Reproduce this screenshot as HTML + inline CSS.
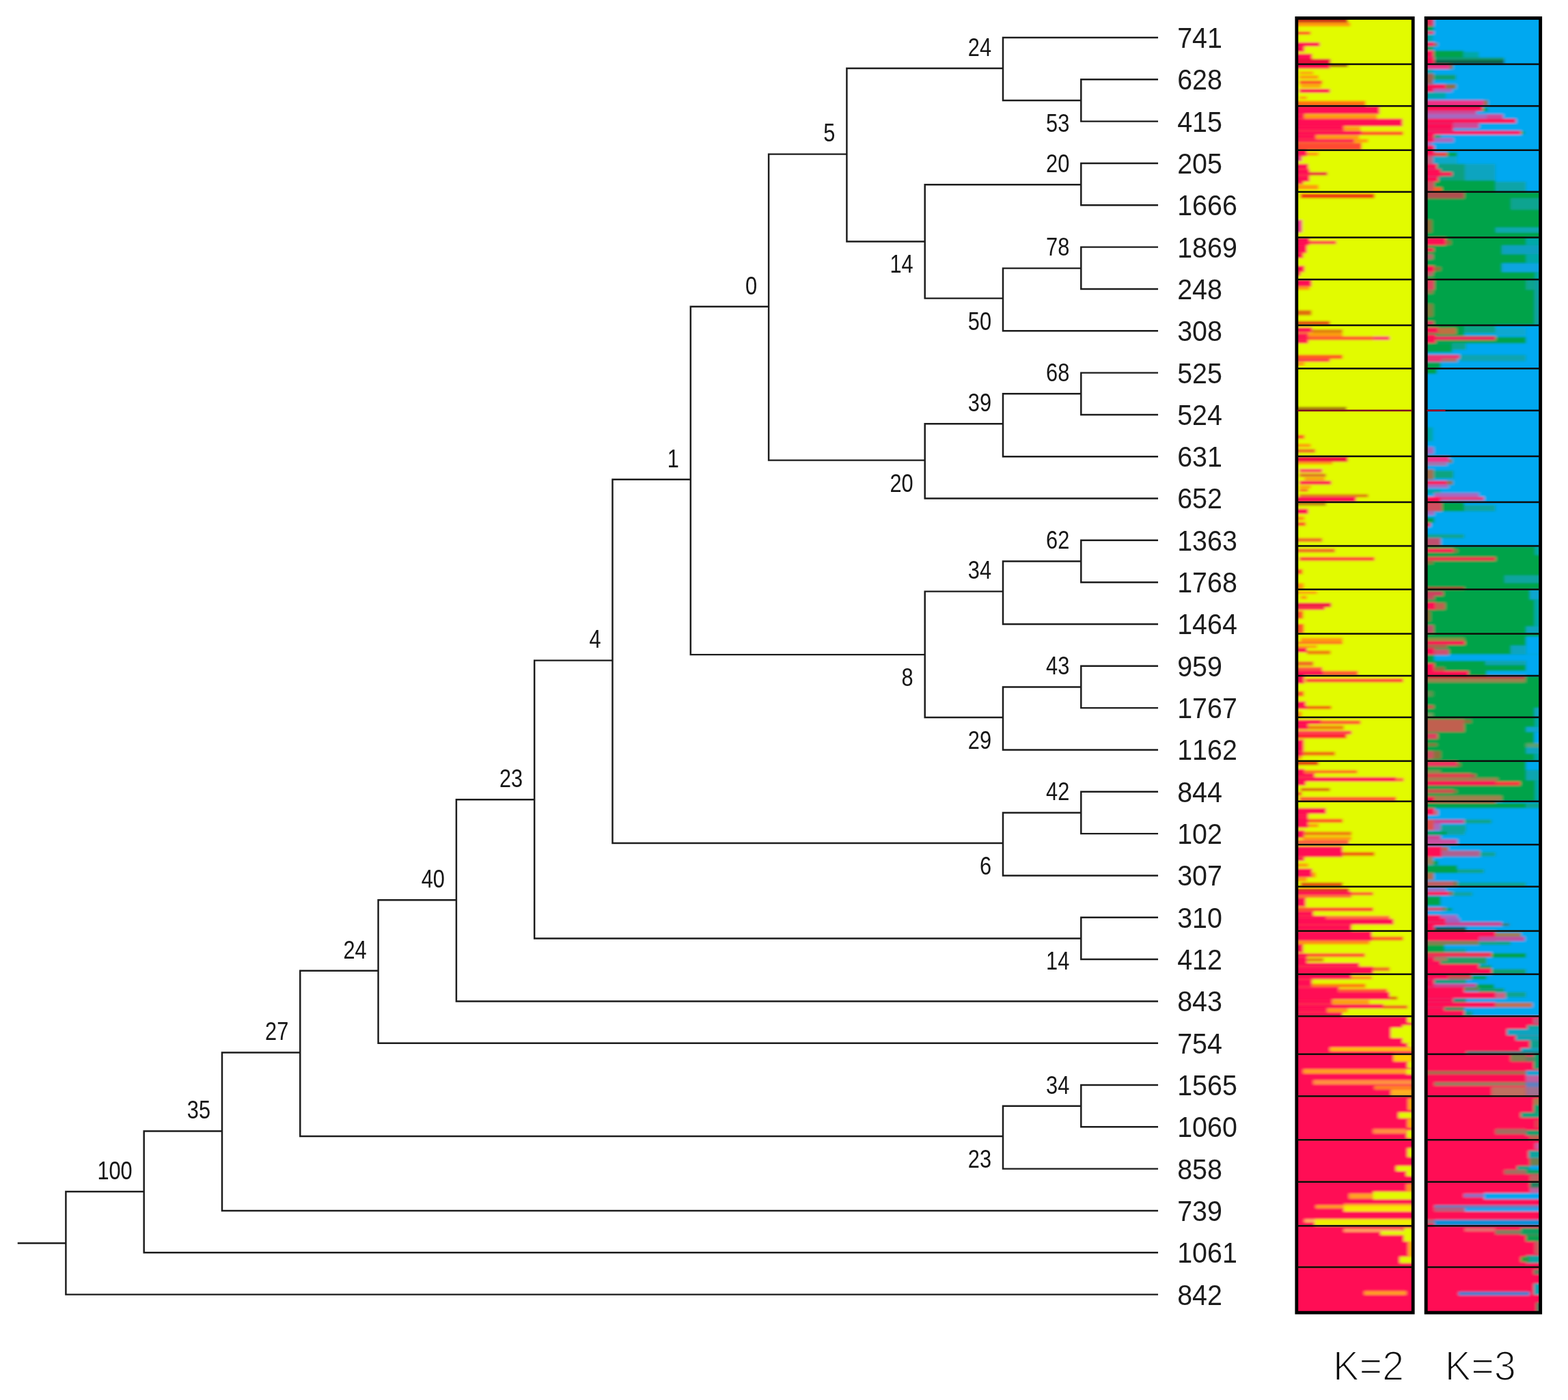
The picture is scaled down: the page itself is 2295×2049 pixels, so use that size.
<!DOCTYPE html>
<html lang="en">
<head>
<meta charset="utf-8">
<title>Phylogenetic tree with STRUCTURE bar plots</title>
<style>
html,body{margin:0;padding:0;background:#fff;}
body{width:2295px;height:2049px;overflow:hidden;}
svg{display:block;}
</style>
</head>
<body>
<svg width="2295" height="2049" viewBox="0 0 2295 2049">
<rect width="2295" height="2049" fill="#fff"/>
<defs><filter id="soft" x="0" y="0" width="100%" height="100%" filterUnits="userSpaceOnUse"><feGaussianBlur stdDeviation="0.55"/></filter></defs>
<g filter="url(#soft)">
<g stroke="#1a1a1a" stroke-width="2.45" stroke-linecap="square" fill="none">
<path d="M1582.3 116.3L1582.3 177.6M1582.3 116.3L1693.8 116.3M1582.3 177.6L1693.8 177.6M1468.0 55.0L1468.0 147.0M1468.0 55.0L1693.8 55.0M1468.0 147.0L1582.3 147.0M1582.3 239.0L1582.3 300.3M1582.3 239.0L1693.8 239.0M1582.3 300.3L1693.8 300.3M1582.3 361.6L1582.3 422.9M1582.3 361.6L1693.8 361.6M1582.3 422.9L1693.8 422.9M1468.0 392.6L1468.0 484.2M1468.0 392.6L1582.3 392.6M1468.0 484.2L1693.8 484.2M1353.7 270.2L1353.7 436.6M1353.7 270.2L1582.3 270.2M1353.7 436.6L1468.0 436.6M1239.4 100.0L1239.4 353.4M1239.4 100.0L1468.0 100.0M1239.4 353.4L1353.7 353.4M1582.3 545.6L1582.3 606.9M1582.3 545.6L1693.8 545.6M1582.3 606.9L1693.8 606.9M1468.0 576.2L1468.0 668.2M1468.0 576.2L1582.3 576.2M1468.0 668.2L1693.8 668.2M1353.7 620.3L1353.7 729.5M1353.7 620.3L1468.0 620.3M1353.7 729.5L1693.8 729.5M1125.1 225.6L1125.1 673.6M1125.1 225.6L1239.4 225.6M1125.1 673.6L1353.7 673.6M1582.3 790.8L1582.3 852.2M1582.3 790.8L1693.8 790.8M1582.3 852.2L1693.8 852.2M1468.0 821.5L1468.0 913.5M1468.0 821.5L1582.3 821.5M1468.0 913.5L1693.8 913.5M1582.3 974.8L1582.3 1036.1M1582.3 974.8L1693.8 974.8M1582.3 1036.1L1693.8 1036.1M1468.0 1005.5L1468.0 1097.4M1468.0 1005.5L1582.3 1005.5M1468.0 1097.4L1693.8 1097.4M1353.7 865.6L1353.7 1050.0M1353.7 865.6L1468.0 865.6M1353.7 1050.0L1468.0 1050.0M1010.8 448.8L1010.8 958.1M1010.8 448.8L1125.1 448.8M1010.8 958.1L1353.7 958.1M1582.3 1158.8L1582.3 1220.1M1582.3 1158.8L1693.8 1158.8M1582.3 1220.1L1693.8 1220.1M1468.0 1189.4L1468.0 1281.4M1468.0 1189.4L1582.3 1189.4M1468.0 1281.4L1693.8 1281.4M896.5 701.7L896.5 1233.9M896.5 701.7L1010.8 701.7M896.5 1233.9L1468.0 1233.9M1582.3 1342.7L1582.3 1404.0M1582.3 1342.7L1693.8 1342.7M1582.3 1404.0L1693.8 1404.0M782.2 966.6L782.2 1373.4M782.2 966.6L896.5 966.6M782.2 1373.4L1582.3 1373.4M667.9 1170.2L667.9 1465.4M667.9 1170.2L782.2 1170.2M667.9 1465.4L1693.8 1465.4M553.6 1317.2L553.6 1526.7M553.6 1317.2L667.9 1317.2M553.6 1526.7L1693.8 1526.7M1582.3 1588.0L1582.3 1649.3M1582.3 1588.0L1693.8 1588.0M1582.3 1649.3L1693.8 1649.3M1468.0 1618.7L1468.0 1710.6M1468.0 1618.7L1582.3 1618.7M1468.0 1710.6L1693.8 1710.6M439.3 1420.7L439.3 1663.0M439.3 1420.7L553.6 1420.7M439.3 1663.0L1468.0 1663.0M325.0 1540.5L325.0 1772.0M325.0 1540.5L439.3 1540.5M325.0 1772.0L1693.8 1772.0M210.7 1655.4L210.7 1833.3M210.7 1655.4L325.0 1655.4M210.7 1833.3L1693.8 1833.3M96.4 1744.0L96.4 1894.6M96.4 1744.0L210.7 1744.0M96.4 1894.6L1693.8 1894.6M27.0 1819.4L96.4 1819.4"/>
</g>
<g font-family="'Liberation Sans', sans-serif" font-size="36.2" fill="#151515" text-anchor="end" style="font-kerning:none">
<text transform="translate(1565.3 193.0) scale(0.85 1)">53</text>
<text transform="translate(1565.3 374.4) scale(0.85 1)">78</text>
<text transform="translate(1565.3 252.0) scale(0.85 1)">20</text>
<text transform="translate(1451.0 482.6) scale(0.85 1)">50</text>
<text transform="translate(1451.0 81.8) scale(0.85 1)">24</text>
<text transform="translate(1336.7 399.4) scale(0.85 1)">14</text>
<text transform="translate(1565.3 558.0) scale(0.85 1)">68</text>
<text transform="translate(1451.0 602.1) scale(0.85 1)">39</text>
<text transform="translate(1222.4 207.4) scale(0.85 1)">5</text>
<text transform="translate(1336.7 719.6) scale(0.85 1)">20</text>
<text transform="translate(1565.3 803.3) scale(0.85 1)">62</text>
<text transform="translate(1565.3 987.3) scale(0.85 1)">43</text>
<text transform="translate(1451.0 847.4) scale(0.85 1)">34</text>
<text transform="translate(1451.0 1096.0) scale(0.85 1)">29</text>
<text transform="translate(1108.1 430.6) scale(0.85 1)">0</text>
<text transform="translate(1336.7 1004.1) scale(0.85 1)">8</text>
<text transform="translate(1565.3 1171.2) scale(0.85 1)">42</text>
<text transform="translate(993.8 683.5) scale(0.85 1)">1</text>
<text transform="translate(1451.0 1279.9) scale(0.85 1)">6</text>
<text transform="translate(879.5 948.4) scale(0.85 1)">4</text>
<text transform="translate(1565.3 1419.4) scale(0.85 1)">14</text>
<text transform="translate(765.2 1152.0) scale(0.85 1)">23</text>
<text transform="translate(650.9 1299.0) scale(0.85 1)">40</text>
<text transform="translate(1565.3 1600.5) scale(0.85 1)">34</text>
<text transform="translate(536.6 1402.5) scale(0.85 1)">24</text>
<text transform="translate(1451.0 1709.0) scale(0.85 1)">23</text>
<text transform="translate(422.3 1522.3) scale(0.85 1)">27</text>
<text transform="translate(308.0 1637.2) scale(0.85 1)">35</text>
<text transform="translate(193.7 1725.8) scale(0.85 1)">100</text>
</g>
<g font-family="'Liberation Sans', sans-serif" font-size="43" fill="#1c1c1c" style="font-kerning:none">
<text transform="translate(1723.2 69.9) scale(0.916 1)">741</text>
<text transform="translate(1723.2 131.2) scale(0.916 1)">628</text>
<text transform="translate(1723.2 192.5) scale(0.916 1)">415</text>
<text transform="translate(1723.2 253.9) scale(0.916 1)">205</text>
<text transform="translate(1723.2 315.2) scale(0.916 1)">1666</text>
<text transform="translate(1723.2 376.5) scale(0.916 1)">1869</text>
<text transform="translate(1723.2 437.8) scale(0.916 1)">248</text>
<text transform="translate(1723.2 499.1) scale(0.916 1)">308</text>
<text transform="translate(1723.2 560.5) scale(0.916 1)">525</text>
<text transform="translate(1723.2 621.8) scale(0.916 1)">524</text>
<text transform="translate(1723.2 683.1) scale(0.916 1)">631</text>
<text transform="translate(1723.2 744.4) scale(0.916 1)">652</text>
<text transform="translate(1723.2 805.7) scale(0.916 1)">1363</text>
<text transform="translate(1723.2 867.1) scale(0.916 1)">1768</text>
<text transform="translate(1723.2 928.4) scale(0.916 1)">1464</text>
<text transform="translate(1723.2 989.7) scale(0.916 1)">959</text>
<text transform="translate(1723.2 1051.0) scale(0.916 1)">1767</text>
<text transform="translate(1723.2 1112.3) scale(0.916 1)">1162</text>
<text transform="translate(1723.2 1173.7) scale(0.916 1)">844</text>
<text transform="translate(1723.2 1235.0) scale(0.916 1)">102</text>
<text transform="translate(1723.2 1296.3) scale(0.916 1)">307</text>
<text transform="translate(1723.2 1357.6) scale(0.916 1)">310</text>
<text transform="translate(1723.2 1418.9) scale(0.916 1)">412</text>
<text transform="translate(1723.2 1480.3) scale(0.916 1)">843</text>
<text transform="translate(1723.2 1541.6) scale(0.916 1)">754</text>
<text transform="translate(1723.2 1602.9) scale(0.916 1)">1565</text>
<text transform="translate(1723.2 1664.2) scale(0.916 1)">1060</text>
<text transform="translate(1723.2 1725.5) scale(0.916 1)">858</text>
<text transform="translate(1723.2 1786.9) scale(0.916 1)">739</text>
<text transform="translate(1723.2 1848.2) scale(0.916 1)">1061</text>
<text transform="translate(1723.2 1909.5) scale(0.916 1)">842</text>
</g>
</g>
<defs><filter id="bl" x="-5%" y="-1%" width="110%" height="102%"><feGaussianBlur stdDeviation="2 1.6"/></filter><filter id="bl3" x="-5%" y="-1%" width="110%" height="102%"><feGaussianBlur stdDeviation="2.3 1.7"/></filter><filter id="bl2" x="-5%" y="-1%" width="110%" height="102%"><feGaussianBlur stdDeviation="0.7"/></filter><clipPath id="c2"><rect x="1899.2" y="27.7" width="167.6" height="1892.1"/></clipPath><clipPath id="c3"><rect x="2088.6" y="27.7" width="164.6" height="1892.1"/></clipPath></defs>
<g clip-path="url(#c2)"><g filter="url(#bl)">
<rect x="1889.4" y="18.3" width="187.2" height="1911.2" fill="#e2fb00"/>
<rect x="1891.2" y="18.7" width="81.4" height="14.7" fill="#c83818"/>
<rect x="1891.2" y="33.0" width="85.1" height="5.6" fill="#ff9a08"/>
<rect x="1891.2" y="46.1" width="27.0" height="4.7" fill="#ff5a28"/>
<rect x="1891.2" y="61.9" width="40.4" height="6.1" fill="#ff0a55"/>
<rect x="1891.2" y="68.1" width="18.0" height="7.8" fill="#ff0a55"/>
<rect x="1891.2" y="78.7" width="29.2" height="8.4" fill="#ff0a55"/>
<rect x="1891.2" y="86.2" width="56.2" height="7.8" fill="#e8103c"/>
<rect x="1891.2" y="94.0" width="55.3" height="6.5" fill="#ff0a55"/>
<rect x="1946.5" y="94.0" width="26.1" height="3.9" fill="#a03010"/>
<rect x="1901.8" y="104.8" width="20.5" height="3.7" fill="#ff9a08"/>
<rect x="1901.8" y="110.4" width="28.0" height="5.0" fill="#ff9a08"/>
<rect x="1901.8" y="117.8" width="33.5" height="5.6" fill="#ff5a28"/>
<rect x="1903.6" y="124.4" width="29.8" height="3.7" fill="#ff9a08"/>
<rect x="1901.8" y="130.0" width="44.7" height="6.0" fill="#ff0a55"/>
<rect x="1901.8" y="141.1" width="11.2" height="3.7" fill="#ff9a08"/>
<rect x="1891.2" y="147.7" width="107.5" height="7.5" fill="#ff7410"/>
<rect x="1891.2" y="155.1" width="128.0" height="12.1" fill="#ff0a55"/>
<rect x="1891.2" y="167.2" width="18.0" height="6.5" fill="#ff0a55"/>
<rect x="1909.2" y="168.2" width="106.2" height="5.6" fill="#ff9a08"/>
<rect x="1891.2" y="173.7" width="161.5" height="11.2" fill="#ff0a55"/>
<rect x="1891.2" y="184.9" width="75.8" height="6.5" fill="#ff0a55"/>
<rect x="1967.0" y="185.9" width="24.2" height="4.7" fill="#ff9a08"/>
<rect x="1891.2" y="191.4" width="101.9" height="6.5" fill="#ff0a55"/>
<rect x="1993.1" y="192.4" width="60.6" height="5.6" fill="#ff5a28"/>
<rect x="1891.2" y="198.0" width="34.8" height="5.6" fill="#ff0a55"/>
<rect x="1926.0" y="198.5" width="63.4" height="5.0" fill="#ff9a08"/>
<rect x="1891.2" y="203.6" width="90.7" height="5.0" fill="#ff0a55"/>
<rect x="1981.9" y="203.6" width="20.5" height="5.0" fill="#ff9a08"/>
<rect x="1891.2" y="209.2" width="101.9" height="10.6" fill="#ff4a30"/>
<rect x="1891.2" y="219.8" width="21.8" height="8.9" fill="#ff0a55"/>
<rect x="1913.0" y="223.0" width="16.8" height="4.7" fill="#ff9a08"/>
<rect x="1891.2" y="228.6" width="14.3" height="7.5" fill="#f03088"/>
<rect x="1891.2" y="239.8" width="23.6" height="7.5" fill="#ff0a55"/>
<rect x="1891.2" y="247.3" width="25.5" height="9.3" fill="#ff0a55"/>
<rect x="1916.7" y="251.9" width="26.1" height="4.7" fill="#e8103c"/>
<rect x="1891.2" y="256.6" width="25.5" height="9.3" fill="#ff0a55"/>
<rect x="1891.2" y="265.9" width="16.2" height="3.7" fill="#ff0a55"/>
<rect x="1891.2" y="270.6" width="38.5" height="6.5" fill="#ff9a08"/>
<rect x="1903.6" y="283.6" width="108.1" height="6.5" fill="#f03010"/>
<rect x="1891.2" y="321.8" width="14.7" height="18.6" fill="#f03088"/>
<rect x="1891.2" y="347.5" width="25.5" height="11.6" fill="#ff0a55"/>
<rect x="1916.7" y="352.6" width="39.1" height="4.7" fill="#ff3050"/>
<rect x="1891.2" y="359.1" width="21.8" height="11.2" fill="#ff0a55"/>
<rect x="1891.2" y="370.3" width="16.2" height="7.5" fill="#ff0a55"/>
<rect x="1891.2" y="388.9" width="18.0" height="9.3" fill="#ff0a55"/>
<rect x="1891.2" y="398.2" width="12.4" height="5.6" fill="#ff0a55"/>
<rect x="1891.2" y="409.0" width="28.3" height="10.5" fill="#ff0a55"/>
<rect x="1891.2" y="419.6" width="25.5" height="4.7" fill="#ff9a08"/>
<rect x="1891.2" y="454.0" width="28.3" height="7.5" fill="#e07010"/>
<rect x="1891.2" y="469.9" width="55.3" height="6.1" fill="#e05010"/>
<rect x="1891.2" y="479.2" width="29.2" height="7.5" fill="#ff0a55"/>
<rect x="1920.4" y="482.0" width="44.7" height="5.6" fill="#e08010"/>
<rect x="1891.2" y="487.6" width="23.6" height="4.7" fill="#ff0a55"/>
<rect x="1914.8" y="487.6" width="50.3" height="4.7" fill="#ff9a08"/>
<rect x="1891.2" y="492.2" width="23.6" height="5.6" fill="#ff0a55"/>
<rect x="1914.8" y="492.2" width="95.0" height="5.6" fill="#ff5a30"/>
<rect x="2009.9" y="492.2" width="24.2" height="5.6" fill="#ff4070"/>
<rect x="1891.2" y="497.8" width="23.6" height="4.7" fill="#ff0a55"/>
<rect x="1891.2" y="519.3" width="73.9" height="6.0" fill="#ff5a20"/>
<rect x="1891.2" y="525.2" width="55.3" height="4.3" fill="#ff3050"/>
<rect x="1891.2" y="530.5" width="18.0" height="4.7" fill="#ff9a08"/>
<rect x="1891.2" y="595.7" width="79.5" height="5.2" fill="#a07010"/>
<rect x="1891.2" y="600.9" width="183.6" height="0.0" fill="#c80030"/>
<rect x="1891.2" y="636.6" width="18.0" height="5.6" fill="#ff5a28"/>
<rect x="1891.2" y="649.6" width="27.3" height="4.7" fill="#ff9a08"/>
<rect x="1891.2" y="657.1" width="33.9" height="5.6" fill="#f07020"/>
<rect x="1891.2" y="667.9" width="81.4" height="8.2" fill="#f01040"/>
<rect x="1891.2" y="676.1" width="59.0" height="3.7" fill="#ff9a08"/>
<rect x="1901.8" y="686.0" width="33.5" height="5.6" fill="#ff5060"/>
<rect x="1901.8" y="693.4" width="39.1" height="4.7" fill="#e07020"/>
<rect x="1909.2" y="699.0" width="29.8" height="3.7" fill="#ff9a08"/>
<rect x="1901.8" y="703.7" width="46.6" height="5.6" fill="#ff0a55"/>
<rect x="1901.8" y="711.1" width="16.8" height="3.7" fill="#ff9a08"/>
<rect x="1901.8" y="715.8" width="13.0" height="3.7" fill="#ff5a28"/>
<rect x="1901.8" y="723.2" width="100.6" height="4.7" fill="#e08010"/>
<rect x="1891.2" y="727.0" width="93.5" height="8.0" fill="#ff0a55"/>
<rect x="1891.2" y="735.0" width="49.7" height="5.2" fill="#c09010"/>
<rect x="1891.2" y="744.7" width="23.6" height="7.5" fill="#ff0a55"/>
<rect x="1891.2" y="755.9" width="18.0" height="5.6" fill="#ff9a08"/>
<rect x="1891.2" y="764.2" width="19.9" height="5.6" fill="#ff5a28"/>
<rect x="1891.2" y="787.5" width="44.1" height="5.6" fill="#f07020"/>
<rect x="1891.2" y="803.0" width="62.8" height="5.6" fill="#f07020"/>
<rect x="1901.8" y="815.2" width="110.0" height="5.6" fill="#ff4838"/>
<rect x="1891.2" y="832.9" width="15.2" height="7.5" fill="#ff5a28"/>
<rect x="1891.2" y="853.4" width="17.1" height="9.3" fill="#ff9a08"/>
<rect x="1891.2" y="865.5" width="36.7" height="3.7" fill="#ff9a08"/>
<rect x="1903.6" y="872.0" width="9.3" height="4.7" fill="#ff9a08"/>
<rect x="1891.2" y="882.2" width="57.2" height="6.5" fill="#f01848"/>
<rect x="1891.2" y="888.8" width="47.8" height="3.7" fill="#ff0a55"/>
<rect x="1891.2" y="894.4" width="16.2" height="11.2" fill="#ff5a28"/>
<rect x="1891.2" y="913.0" width="17.1" height="14.5" fill="#ff5a28"/>
<rect x="1903.6" y="933.5" width="61.5" height="5.6" fill="#ff9a08"/>
<rect x="1891.2" y="939.1" width="73.9" height="3.7" fill="#ff7020"/>
<rect x="1891.2" y="944.7" width="36.7" height="3.7" fill="#ff9a08"/>
<rect x="1891.2" y="948.4" width="21.8" height="6.5" fill="#ff0a55"/>
<rect x="1913.0" y="952.1" width="34.5" height="5.6" fill="#f08010"/>
<rect x="1891.2" y="968.0" width="31.1" height="6.5" fill="#f07020"/>
<rect x="1891.2" y="976.4" width="44.1" height="5.6" fill="#ff5040"/>
<rect x="1891.2" y="981.9" width="46.0" height="7.1" fill="#ff0a55"/>
<rect x="1937.2" y="981.9" width="50.3" height="7.1" fill="#ff5a30"/>
<rect x="1911.1" y="993.0" width="142.6" height="5.6" fill="#ff4838"/>
<rect x="1891.2" y="989.0" width="18.0" height="11.5" fill="#ff0a55"/>
<rect x="1891.2" y="1011.7" width="17.1" height="7.5" fill="#ff5a28"/>
<rect x="1891.2" y="1026.6" width="19.9" height="6.5" fill="#ff0a55"/>
<rect x="1891.2" y="1033.1" width="21.8" height="4.7" fill="#ff0a55"/>
<rect x="1913.0" y="1033.1" width="35.4" height="4.7" fill="#f06010"/>
<rect x="1891.2" y="1041.5" width="14.3" height="8.4" fill="#ff9a08"/>
<rect x="1891.2" y="1053.6" width="42.3" height="6.5" fill="#ff0a55"/>
<rect x="1933.5" y="1054.5" width="57.8" height="5.6" fill="#ff5a30"/>
<rect x="1891.2" y="1060.1" width="23.6" height="7.5" fill="#ff0a55"/>
<rect x="1914.8" y="1062.0" width="52.2" height="5.6" fill="#f08010"/>
<rect x="1891.2" y="1069.5" width="87.0" height="5.6" fill="#ff4050"/>
<rect x="1891.2" y="1075.0" width="79.5" height="5.6" fill="#ff2030"/>
<rect x="1891.2" y="1082.5" width="17.1" height="16.8" fill="#ff0a55"/>
<rect x="1907.4" y="1100.2" width="46.6" height="5.6" fill="#f07010"/>
<rect x="1891.2" y="1099.3" width="16.2" height="7.5" fill="#ff0a55"/>
<rect x="1891.2" y="1106.7" width="14.3" height="4.7" fill="#ff9a08"/>
<rect x="1891.2" y="1113.8" width="38.5" height="6.0" fill="#e04010"/>
<rect x="1907.4" y="1127.2" width="79.2" height="4.7" fill="#ff7020"/>
<rect x="1891.2" y="1125.4" width="18.0" height="9.3" fill="#ff0a55"/>
<rect x="1891.2" y="1131.9" width="32.9" height="5.6" fill="#ff0a55"/>
<rect x="1891.2" y="1137.5" width="152.2" height="6.5" fill="#ff0a55"/>
<rect x="2043.4" y="1138.4" width="11.2" height="5.6" fill="#ff7040"/>
<rect x="1891.2" y="1144.0" width="19.9" height="5.6" fill="#ff0a55"/>
<rect x="1903.6" y="1153.3" width="42.9" height="4.7" fill="#e07010"/>
<rect x="1891.2" y="1158.9" width="14.3" height="5.6" fill="#ff5a28"/>
<rect x="1901.8" y="1166.4" width="141.6" height="6.5" fill="#ff5a30"/>
<rect x="1891.2" y="1182.7" width="49.7" height="8.4" fill="#ff0a55"/>
<rect x="1891.2" y="1191.1" width="23.6" height="4.7" fill="#ff0a55"/>
<rect x="1913.0" y="1198.5" width="52.2" height="5.6" fill="#ff5a20"/>
<rect x="1891.2" y="1195.7" width="23.6" height="15.8" fill="#ff0a55"/>
<rect x="1914.8" y="1206.0" width="14.9" height="4.7" fill="#ff9a08"/>
<rect x="1909.2" y="1217.2" width="69.0" height="5.6" fill="#f08010"/>
<rect x="1891.2" y="1215.3" width="18.0" height="11.2" fill="#ff0a55"/>
<rect x="1907.4" y="1224.6" width="70.8" height="4.7" fill="#ff9a08"/>
<rect x="1891.2" y="1229.3" width="83.3" height="6.9" fill="#ff6040"/>
<rect x="1891.2" y="1238.6" width="73.9" height="15.8" fill="#ff0a55"/>
<rect x="1965.1" y="1247.0" width="46.6" height="5.6" fill="#f06010"/>
<rect x="1891.2" y="1254.5" width="18.0" height="5.6" fill="#ff0a55"/>
<rect x="1891.2" y="1263.8" width="23.6" height="4.7" fill="#ff9a08"/>
<rect x="1891.2" y="1271.2" width="29.2" height="13.0" fill="#ff0a55"/>
<rect x="1920.4" y="1276.8" width="5.6" height="7.5" fill="#ff9a08"/>
<rect x="1891.2" y="1284.3" width="21.8" height="5.6" fill="#ff9a08"/>
<rect x="1903.6" y="1291.7" width="61.5" height="6.0" fill="#e05010"/>
<rect x="1891.2" y="1300.1" width="83.3" height="4.7" fill="#e02020"/>
<rect x="1891.2" y="1304.8" width="87.0" height="5.6" fill="#ff0a55"/>
<rect x="1978.2" y="1305.7" width="31.7" height="4.7" fill="#ff5a30"/>
<rect x="1891.2" y="1310.4" width="87.0" height="3.7" fill="#ff7030"/>
<rect x="1891.2" y="1314.1" width="19.9" height="13.0" fill="#ff0a55"/>
<rect x="1891.2" y="1328.1" width="118.7" height="5.6" fill="#ff4a30"/>
<rect x="1891.2" y="1333.7" width="31.1" height="6.5" fill="#ff0a55"/>
<rect x="1891.2" y="1340.2" width="49.7" height="4.7" fill="#ff0a55"/>
<rect x="1940.9" y="1340.2" width="93.2" height="4.7" fill="#ff7040"/>
<rect x="1891.2" y="1344.8" width="148.5" height="8.4" fill="#ff0a55"/>
<rect x="1891.2" y="1353.2" width="87.0" height="9.3" fill="#ff0a55"/>
<rect x="1891.2" y="1362.5" width="116.8" height="14.8" fill="#ff0a55"/>
<rect x="2008.0" y="1370.8" width="45.7" height="5.6" fill="#ff6020"/>
<rect x="1891.2" y="1377.4" width="113.1" height="4.7" fill="#ff9010"/>
<rect x="1891.2" y="1382.0" width="16.2" height="12.1" fill="#ff0a55"/>
<rect x="1891.2" y="1395.1" width="21.8" height="5.6" fill="#ff0a55"/>
<rect x="1913.0" y="1395.1" width="84.8" height="5.6" fill="#ff5a30"/>
<rect x="1891.2" y="1400.7" width="21.8" height="8.4" fill="#ff0a55"/>
<rect x="1913.0" y="1402.5" width="24.2" height="4.7" fill="#e08010"/>
<rect x="1891.2" y="1409.0" width="98.2" height="5.6" fill="#ff0a55"/>
<rect x="1891.2" y="1414.6" width="118.7" height="11.2" fill="#ff0a55"/>
<rect x="2009.9" y="1415.6" width="24.2" height="5.6" fill="#f07020"/>
<rect x="1891.2" y="1425.8" width="87.0" height="7.5" fill="#ff0a55"/>
<rect x="1978.2" y="1428.6" width="29.8" height="4.7" fill="#ff9020"/>
<rect x="1891.2" y="1433.3" width="29.2" height="11.2" fill="#ff0a55"/>
<rect x="1920.4" y="1439.8" width="78.3" height="5.6" fill="#ff8010"/>
<rect x="1891.2" y="1444.5" width="68.3" height="7.5" fill="#ff0a55"/>
<rect x="1959.5" y="1447.2" width="70.8" height="5.6" fill="#ff5a30"/>
<rect x="1891.2" y="1451.9" width="142.9" height="11.2" fill="#ff0a55"/>
<rect x="2034.1" y="1458.4" width="11.2" height="4.7" fill="#e07010"/>
<rect x="1891.2" y="1463.1" width="59.0" height="6.5" fill="#ff0a55"/>
<rect x="1950.2" y="1464.0" width="54.0" height="4.7" fill="#ff9a08"/>
<rect x="1891.2" y="1469.6" width="133.6" height="6.5" fill="#ff0a55"/>
<rect x="2024.8" y="1471.5" width="35.4" height="4.7" fill="#f06020"/>
<rect x="1891.2" y="1476.1" width="51.6" height="5.6" fill="#ff0a55"/>
<rect x="1942.8" y="1476.1" width="29.8" height="5.6" fill="#ff9a08"/>
<rect x="1891.2" y="1481.7" width="73.9" height="5.6" fill="#ff0a55"/>
<rect x="1891.2" y="1487.3" width="183.6" height="55.5" fill="#ff0a55"/>
<rect x="2060.2" y="1487.3" width="14.6" height="9.3" fill="#e2fb00"/>
<rect x="2052.7" y="1500.4" width="22.1" height="9.3" fill="#e2fb00"/>
<rect x="2036.0" y="1504.1" width="38.8" height="14.9" fill="#e2fb00"/>
<rect x="2052.7" y="1519.0" width="22.1" height="7.5" fill="#e2fb00"/>
<rect x="2060.2" y="1526.4" width="14.6" height="5.6" fill="#e2fb00"/>
<rect x="1946.5" y="1533.0" width="128.3" height="5.6" fill="#ffc000"/>
<rect x="1891.2" y="1542.8" width="183.6" height="61.5" fill="#ff0a55"/>
<rect x="2039.7" y="1542.8" width="35.1" height="10.8" fill="#ffd000"/>
<rect x="2060.2" y="1553.6" width="14.6" height="9.3" fill="#e2fb00"/>
<rect x="1907.4" y="1564.8" width="151.0" height="6.5" fill="#ffa020"/>
<rect x="2058.3" y="1564.8" width="16.5" height="7.5" fill="#e2fb00"/>
<rect x="1922.3" y="1580.7" width="152.5" height="6.5" fill="#ff9040"/>
<rect x="2011.7" y="1589.0" width="63.1" height="5.6" fill="#ff8020"/>
<rect x="2036.0" y="1594.6" width="38.8" height="9.7" fill="#ffb020"/>
<rect x="1891.2" y="1604.3" width="183.6" height="63.9" fill="#ff0a55"/>
<rect x="2061.1" y="1607.7" width="13.7" height="16.8" fill="#ffb000"/>
<rect x="2047.1" y="1628.2" width="27.7" height="8.4" fill="#e2fb00"/>
<rect x="2060.2" y="1637.5" width="14.6" height="13.0" fill="#ffb000"/>
<rect x="2009.9" y="1652.4" width="48.5" height="6.5" fill="#ff9040"/>
<rect x="2059.2" y="1654.3" width="15.6" height="11.2" fill="#e2fb00"/>
<rect x="1891.2" y="1668.2" width="183.6" height="61.5" fill="#ff0a55"/>
<rect x="2060.2" y="1680.4" width="14.6" height="13.0" fill="#e2fb00"/>
<rect x="2043.4" y="1706.4" width="31.4" height="7.5" fill="#e2fb00"/>
<rect x="2058.3" y="1713.9" width="16.5" height="7.5" fill="#e2fb00"/>
<rect x="1891.2" y="1729.7" width="183.6" height="64.4" fill="#ff0a55"/>
<rect x="2058.3" y="1733.0" width="16.5" height="11.2" fill="#ff9020"/>
<rect x="1974.5" y="1747.0" width="35.4" height="7.5" fill="#ffa020"/>
<rect x="2009.9" y="1744.2" width="64.9" height="11.2" fill="#e2fb00"/>
<rect x="1967.0" y="1761.9" width="107.8" height="3.7" fill="#ffa020"/>
<rect x="1926.0" y="1763.8" width="41.0" height="4.7" fill="#ffa020"/>
<rect x="1967.0" y="1764.7" width="107.8" height="8.4" fill="#f8e800"/>
<rect x="1909.2" y="1784.3" width="14.9" height="4.7" fill="#ffb060"/>
<rect x="1924.1" y="1784.3" width="150.7" height="9.9" fill="#f0f000"/>
<rect x="1891.2" y="1794.2" width="183.6" height="60.4" fill="#ff0a55"/>
<rect x="1967.0" y="1798.3" width="85.7" height="4.7" fill="#ffa060"/>
<rect x="2021.0" y="1802.0" width="53.8" height="5.6" fill="#e2fb00"/>
<rect x="2054.6" y="1797.3" width="20.2" height="19.6" fill="#e2fb00"/>
<rect x="2061.1" y="1816.9" width="13.7" height="22.4" fill="#ffb000"/>
<rect x="2049.0" y="1839.3" width="25.8" height="9.3" fill="#e2fb00"/>
<rect x="1891.2" y="1854.6" width="183.6" height="74.2" fill="#ff0a55"/>
<rect x="1996.8" y="1889.6" width="61.5" height="5.6" fill="#ffa020"/>
</g></g>
<g clip-path="url(#c3)"><g filter="url(#bl3)">
<rect x="2078.7" y="18.3" width="184.4" height="1911.2" fill="#00a8f0"/>
<rect x="2080.6" y="18.7" width="17.8" height="19.9" fill="#e0305a"/>
<rect x="2080.6" y="38.6" width="17.8" height="6.5" fill="#00a348"/>
<rect x="2080.6" y="46.1" width="17.8" height="3.7" fill="#ff0a55"/>
<rect x="2080.6" y="50.7" width="16.8" height="10.2" fill="#00a8a8"/>
<rect x="2080.6" y="61.9" width="18.7" height="5.6" fill="#ff0a55"/>
<rect x="2099.3" y="62.9" width="4.7" height="4.7" fill="#90703c"/>
<rect x="2080.6" y="68.5" width="17.8" height="4.7" fill="#00a348"/>
<rect x="2080.6" y="74.0" width="17.8" height="9.3" fill="#ff0a55"/>
<rect x="2098.4" y="74.0" width="43.8" height="10.2" fill="#00a348"/>
<rect x="2142.2" y="75.9" width="22.4" height="8.4" fill="#00a8a8"/>
<rect x="2080.6" y="83.4" width="18.7" height="10.6" fill="#ff0a55"/>
<rect x="2099.3" y="84.3" width="102.5" height="4.3" fill="#109868"/>
<rect x="2099.3" y="88.0" width="102.5" height="6.0" fill="#0c6048"/>
<rect x="2080.6" y="94.0" width="41.1" height="7.1" fill="#f03088"/>
<rect x="2121.7" y="94.0" width="4.7" height="7.1" fill="#90703c"/>
<rect x="2080.6" y="102.0" width="16.8" height="4.7" fill="#00a8a8"/>
<rect x="2080.6" y="107.6" width="17.8" height="9.3" fill="#a06050"/>
<rect x="2098.4" y="109.5" width="32.6" height="7.5" fill="#10a070"/>
<rect x="2080.6" y="116.9" width="16.8" height="5.6" fill="#a06050"/>
<rect x="2080.6" y="123.4" width="35.5" height="6.5" fill="#ff0a55"/>
<rect x="2116.1" y="123.4" width="14.9" height="6.5" fill="#90703c"/>
<rect x="2080.6" y="130.0" width="17.8" height="4.7" fill="#ff0a55"/>
<rect x="2098.4" y="130.0" width="27.0" height="4.7" fill="#a868c0"/>
<rect x="2080.6" y="135.5" width="35.5" height="8.4" fill="#00a8a8"/>
<rect x="2080.6" y="146.7" width="91.4" height="8.4" fill="#f03088"/>
<rect x="2172.0" y="146.7" width="5.6" height="8.4" fill="#90703c"/>
<rect x="2080.6" y="155.1" width="89.5" height="7.5" fill="#ff0a55"/>
<rect x="2170.1" y="157.9" width="7.5" height="4.7" fill="#00a348"/>
<rect x="2080.6" y="162.6" width="80.2" height="4.7" fill="#d04898"/>
<rect x="2080.6" y="167.2" width="95.1" height="6.5" fill="#a868c0"/>
<rect x="2175.7" y="167.2" width="24.2" height="6.5" fill="#d04898"/>
<rect x="2080.6" y="173.7" width="138.0" height="6.5" fill="#ff0a55"/>
<rect x="2080.6" y="180.3" width="46.7" height="7.5" fill="#ff0a55"/>
<rect x="2127.3" y="180.3" width="37.3" height="7.5" fill="#d04898"/>
<rect x="2080.6" y="187.7" width="46.7" height="3.7" fill="#ff0a55"/>
<rect x="2080.6" y="191.4" width="145.4" height="5.6" fill="#ff1060"/>
<rect x="2226.0" y="192.4" width="5.6" height="3.7" fill="#00a348"/>
<rect x="2080.6" y="197.0" width="18.7" height="4.7" fill="#ff0a55"/>
<rect x="2099.3" y="198.0" width="9.3" height="3.7" fill="#00a348"/>
<rect x="2080.6" y="201.7" width="18.7" height="6.5" fill="#ff0a55"/>
<rect x="2099.3" y="201.7" width="28.0" height="6.5" fill="#a868c0"/>
<rect x="2080.6" y="208.2" width="15.0" height="4.7" fill="#a868c0"/>
<rect x="2080.6" y="212.9" width="18.7" height="6.9" fill="#ff0a55"/>
<rect x="2097.4" y="228.6" width="35.4" height="11.2" fill="#08a8c8"/>
<rect x="2103.0" y="239.8" width="41.0" height="24.2" fill="#10a080"/>
<rect x="2144.0" y="239.8" width="44.7" height="24.2" fill="#08a4c0"/>
<rect x="2099.3" y="264.0" width="89.5" height="16.8" fill="#00a348"/>
<rect x="2188.8" y="265.9" width="44.7" height="14.9" fill="#08a4a8"/>
<rect x="2080.6" y="219.8" width="18.7" height="8.9" fill="#ff0a55"/>
<rect x="2099.3" y="223.0" width="18.6" height="5.6" fill="#f04030"/>
<rect x="2117.9" y="223.0" width="14.9" height="5.6" fill="#00a348"/>
<rect x="2080.6" y="228.6" width="16.8" height="11.2" fill="#c06080"/>
<rect x="2080.6" y="239.8" width="22.4" height="7.5" fill="#ff0a55"/>
<rect x="2080.6" y="247.3" width="28.0" height="11.2" fill="#ff0a55"/>
<rect x="2108.6" y="251.9" width="16.8" height="5.6" fill="#ff0a55"/>
<rect x="2080.6" y="258.5" width="24.3" height="7.5" fill="#ff0a55"/>
<rect x="2080.6" y="265.9" width="18.7" height="14.9" fill="#d05060"/>
<rect x="2097.4" y="274.3" width="13.0" height="6.5" fill="#ff5a28"/>
<rect x="2080.6" y="280.8" width="180.6" height="66.7" fill="#00a348"/>
<rect x="2080.6" y="280.8" width="62.5" height="9.7" fill="#b05050"/>
<rect x="2211.1" y="290.1" width="50.1" height="16.8" fill="#08a490"/>
<rect x="2188.8" y="333.0" width="72.4" height="7.5" fill="#10a8b0"/>
<rect x="2080.6" y="321.8" width="15.0" height="18.6" fill="#90703c"/>
<rect x="2080.6" y="347.5" width="180.6" height="61.5" fill="#00a348"/>
<rect x="2080.6" y="347.5" width="35.5" height="11.6" fill="#ff0a55"/>
<rect x="2116.1" y="351.6" width="7.5" height="6.5" fill="#90703c"/>
<rect x="2080.6" y="362.8" width="17.8" height="5.6" fill="#ff0a55"/>
<rect x="2080.6" y="372.1" width="16.8" height="7.5" fill="#c06070"/>
<rect x="2080.6" y="388.9" width="18.7" height="9.3" fill="#ff0a55"/>
<rect x="2099.3" y="390.8" width="9.3" height="5.6" fill="#90703c"/>
<rect x="2080.6" y="398.2" width="16.8" height="5.6" fill="#c06070"/>
<rect x="2233.5" y="347.5" width="27.7" height="11.6" fill="#00a8a8"/>
<rect x="2198.1" y="359.1" width="63.1" height="13.0" fill="#10a0c0"/>
<rect x="2233.5" y="372.1" width="27.7" height="14.9" fill="#00a8a8"/>
<rect x="2198.1" y="385.2" width="63.1" height="13.0" fill="#08a4e0"/>
<rect x="2246.5" y="398.2" width="14.7" height="10.8" fill="#00a8a8"/>
<rect x="2080.6" y="409.0" width="180.6" height="67.0" fill="#00a348"/>
<rect x="2245.6" y="409.0" width="15.6" height="67.0" fill="#10a0a0"/>
<rect x="2233.5" y="409.0" width="12.1" height="15.2" fill="#10a490"/>
<rect x="2080.6" y="409.0" width="18.7" height="15.2" fill="#e04060"/>
<rect x="2080.6" y="424.2" width="16.8" height="5.6" fill="#a07050"/>
<rect x="2080.6" y="444.7" width="16.8" height="18.6" fill="#808040"/>
<rect x="2080.6" y="469.9" width="17.8" height="6.1" fill="#e03060"/>
<rect x="2080.6" y="476.0" width="62.5" height="15.3" fill="#00a348"/>
<rect x="2143.1" y="476.0" width="45.7" height="11.6" fill="#10a488"/>
<rect x="2188.8" y="480.1" width="44.7" height="11.2" fill="#08a8d0"/>
<rect x="2080.6" y="479.2" width="24.3" height="8.4" fill="#ff0a55"/>
<rect x="2104.9" y="480.1" width="26.1" height="9.3" fill="#c07040"/>
<rect x="2080.6" y="491.3" width="108.2" height="11.2" fill="#00a348"/>
<rect x="2188.8" y="493.2" width="44.7" height="9.3" fill="#00a348"/>
<rect x="2080.6" y="492.2" width="108.2" height="5.6" fill="#f02060"/>
<rect x="2080.6" y="489.5" width="20.6" height="13.0" fill="#ff0a55"/>
<rect x="2080.6" y="502.5" width="44.8" height="13.0" fill="#00a348"/>
<rect x="2125.4" y="502.5" width="20.5" height="9.3" fill="#10a490"/>
<rect x="2080.6" y="519.3" width="56.0" height="5.6" fill="#f03070"/>
<rect x="2080.6" y="524.9" width="29.9" height="4.7" fill="#f03070"/>
<rect x="2110.5" y="524.9" width="22.4" height="4.7" fill="#b07060"/>
<rect x="2136.6" y="519.3" width="96.9" height="9.3" fill="#08a4b0"/>
<rect x="2080.6" y="530.5" width="28.0" height="8.9" fill="#00a348"/>
<rect x="2080.6" y="539.4" width="22.4" height="7.8" fill="#00a348"/>
<rect x="2080.6" y="600.9" width="33.6" height="0.0" fill="#d00030"/>
<rect x="2080.6" y="625.4" width="16.8" height="20.5" fill="#00a8a8"/>
<rect x="2080.6" y="654.3" width="17.8" height="10.2" fill="#a868c0"/>
<rect x="2080.6" y="667.9" width="40.1" height="8.8" fill="#f03088"/>
<rect x="2120.7" y="672.0" width="4.7" height="5.6" fill="#90703c"/>
<rect x="2080.6" y="677.6" width="37.3" height="3.7" fill="#b070a0"/>
<rect x="2080.6" y="686.9" width="17.8" height="14.9" fill="#a07050"/>
<rect x="2098.4" y="688.8" width="28.9" height="11.2" fill="#10a480"/>
<rect x="2080.6" y="703.7" width="37.3" height="5.6" fill="#ff0a55"/>
<rect x="2117.9" y="703.7" width="8.4" height="5.6" fill="#90703c"/>
<rect x="2080.6" y="709.3" width="39.2" height="4.7" fill="#a868c0"/>
<rect x="2080.6" y="716.7" width="28.0" height="5.6" fill="#00a8a8"/>
<rect x="2099.3" y="721.4" width="65.2" height="5.6" fill="#a868c0"/>
<rect x="2080.6" y="727.0" width="28.0" height="8.0" fill="#ff0a55"/>
<rect x="2108.6" y="727.0" width="63.4" height="5.6" fill="#e04080"/>
<rect x="2080.6" y="735.0" width="62.5" height="13.4" fill="#00a348"/>
<rect x="2143.1" y="739.1" width="45.7" height="9.3" fill="#08a4a0"/>
<rect x="2080.6" y="735.0" width="29.9" height="13.4" fill="#d05060"/>
<rect x="2080.6" y="748.4" width="18.7" height="5.6" fill="#a868c0"/>
<rect x="2080.6" y="757.7" width="18.7" height="7.5" fill="#00a348"/>
<rect x="2080.6" y="765.2" width="13.1" height="5.6" fill="#ff0a55"/>
<rect x="2080.6" y="781.9" width="62.5" height="5.6" fill="#08a490"/>
<rect x="2080.6" y="787.5" width="28.0" height="11.6" fill="#c05070"/>
<rect x="2080.6" y="799.1" width="180.6" height="63.6" fill="#00a348"/>
<rect x="2246.5" y="799.1" width="14.7" height="13.3" fill="#00a8a8"/>
<rect x="2201.8" y="842.2" width="59.4" height="11.2" fill="#10a4a0"/>
<rect x="2080.6" y="803.0" width="46.7" height="5.6" fill="#ff0a55"/>
<rect x="2127.3" y="804.0" width="5.6" height="4.7" fill="#90703c"/>
<rect x="2080.6" y="815.2" width="108.2" height="5.6" fill="#f03050"/>
<rect x="2080.6" y="821.7" width="16.8" height="3.7" fill="#90703c"/>
<rect x="2080.6" y="859.3" width="62.5" height="3.4" fill="#c00030"/>
<rect x="2080.6" y="862.7" width="180.6" height="64.9" fill="#00a348"/>
<rect x="2239.1" y="862.7" width="22.1" height="14.9" fill="#08a4d0"/>
<rect x="2245.6" y="877.6" width="15.6" height="42.9" fill="#00a8a8"/>
<rect x="2233.5" y="916.7" width="27.7" height="10.8" fill="#08a4c0"/>
<rect x="2080.6" y="865.5" width="31.8" height="6.5" fill="#d04060"/>
<rect x="2080.6" y="872.0" width="18.7" height="5.6" fill="#c05060"/>
<rect x="2080.6" y="881.3" width="20.6" height="11.2" fill="#ff0a55"/>
<rect x="2101.2" y="882.2" width="14.0" height="10.2" fill="#c06050"/>
<rect x="2080.6" y="894.4" width="13.1" height="14.9" fill="#90703c"/>
<rect x="2080.6" y="914.9" width="17.8" height="12.7" fill="#c05070"/>
<rect x="2080.6" y="927.5" width="180.6" height="30.2" fill="#00a348"/>
<rect x="2233.5" y="931.6" width="27.7" height="26.1" fill="#00a8f0"/>
<rect x="2211.1" y="944.7" width="22.4" height="13.0" fill="#08a4c0"/>
<rect x="2080.6" y="933.5" width="62.5" height="4.7" fill="#909040"/>
<rect x="2080.6" y="938.2" width="63.4" height="5.6" fill="#ff0a55"/>
<rect x="2080.6" y="944.7" width="37.3" height="3.7" fill="#b06050"/>
<rect x="2080.6" y="948.4" width="18.7" height="10.2" fill="#ff0a55"/>
<rect x="2099.3" y="950.3" width="21.4" height="8.4" fill="#d05070"/>
<rect x="2080.6" y="958.7" width="18.7" height="8.4" fill="#00a348"/>
<rect x="2080.6" y="967.0" width="152.9" height="14.9" fill="#00a348"/>
<rect x="2173.9" y="967.0" width="59.6" height="6.5" fill="#08a4b0"/>
<rect x="2080.6" y="970.8" width="18.7" height="11.2" fill="#ff0a55"/>
<rect x="2099.3" y="976.4" width="14.9" height="5.6" fill="#90703c"/>
<rect x="2080.6" y="981.9" width="69.0" height="7.1" fill="#ff0a55"/>
<rect x="2149.6" y="981.9" width="26.1" height="7.1" fill="#00a348"/>
<rect x="2080.6" y="989.0" width="180.6" height="60.9" fill="#00a348"/>
<rect x="2080.6" y="989.0" width="152.0" height="4.4" fill="#c03040"/>
<rect x="2080.6" y="993.0" width="152.0" height="5.6" fill="#a08050"/>
<rect x="2080.6" y="1011.7" width="16.8" height="7.5" fill="#609050"/>
<rect x="2080.6" y="1032.2" width="17.8" height="4.7" fill="#d05050"/>
<rect x="2080.6" y="1043.4" width="16.8" height="6.5" fill="#70a060"/>
<rect x="2245.6" y="1035.9" width="15.6" height="14.0" fill="#08a4c0"/>
<rect x="2080.6" y="1049.9" width="180.6" height="63.9" fill="#00a348"/>
<rect x="2080.6" y="1052.7" width="62.5" height="18.6" fill="#c06050"/>
<rect x="2143.1" y="1053.6" width="10.2" height="4.7" fill="#90703c"/>
<rect x="2080.6" y="1073.2" width="23.4" height="8.4" fill="#e04060"/>
<rect x="2080.6" y="1088.1" width="22.4" height="3.7" fill="#90703c"/>
<rect x="2080.6" y="1099.3" width="17.8" height="11.2" fill="#d05060"/>
<rect x="2098.4" y="1099.3" width="10.2" height="11.2" fill="#90703c"/>
<rect x="2246.5" y="1049.9" width="14.7" height="14.0" fill="#00a8a8"/>
<rect x="2233.5" y="1063.9" width="27.7" height="7.5" fill="#08a4d0"/>
<rect x="2245.6" y="1071.3" width="15.6" height="16.8" fill="#00a8f0"/>
<rect x="2233.5" y="1088.1" width="27.7" height="5.6" fill="#60a070"/>
<rect x="2233.5" y="1093.7" width="27.7" height="9.3" fill="#08a4c0"/>
<rect x="2245.6" y="1103.0" width="15.6" height="10.8" fill="#00a8a8"/>
<rect x="2080.6" y="1113.8" width="180.6" height="59.1" fill="#00a348"/>
<rect x="2080.6" y="1113.8" width="52.3" height="7.8" fill="#f03060"/>
<rect x="2132.9" y="1117.0" width="4.7" height="4.7" fill="#90703c"/>
<rect x="2080.6" y="1127.2" width="28.0" height="4.7" fill="#809050"/>
<rect x="2080.6" y="1131.9" width="72.8" height="6.5" fill="#e04050"/>
<rect x="2153.4" y="1132.8" width="6.5" height="5.6" fill="#c05050"/>
<rect x="2080.6" y="1138.4" width="111.9" height="4.7" fill="#a08050"/>
<rect x="2080.6" y="1143.1" width="108.2" height="6.5" fill="#ff0a55"/>
<rect x="2188.8" y="1144.0" width="36.3" height="5.6" fill="#ff3040"/>
<rect x="2080.6" y="1155.2" width="46.7" height="5.6" fill="#d05050"/>
<rect x="2127.3" y="1156.1" width="4.7" height="4.7" fill="#90703c"/>
<rect x="2080.6" y="1164.5" width="117.5" height="8.4" fill="#a08050"/>
<rect x="2080.6" y="1166.4" width="18.7" height="6.5" fill="#ff0a55"/>
<rect x="2233.5" y="1113.8" width="27.7" height="13.4" fill="#00a8f0"/>
<rect x="2233.5" y="1127.2" width="27.7" height="14.9" fill="#08a4b0"/>
<rect x="2246.5" y="1142.1" width="14.7" height="30.7" fill="#00a8a8"/>
<rect x="2080.6" y="1172.9" width="108.2" height="3.9" fill="#e03050"/>
<rect x="2080.6" y="1175.2" width="152.9" height="7.5" fill="#00a348"/>
<rect x="2233.5" y="1175.2" width="27.7" height="7.5" fill="#08a490"/>
<rect x="2080.6" y="1182.7" width="18.7" height="10.2" fill="#ff0a55"/>
<rect x="2099.3" y="1185.5" width="5.6" height="7.5" fill="#c07080"/>
<rect x="2080.6" y="1199.5" width="18.7" height="5.6" fill="#e05050"/>
<rect x="2099.3" y="1199.5" width="43.8" height="5.6" fill="#d04090"/>
<rect x="2143.1" y="1199.5" width="40.1" height="5.6" fill="#10a488"/>
<rect x="2080.6" y="1205.1" width="18.7" height="10.2" fill="#e05050"/>
<rect x="2099.3" y="1205.1" width="9.3" height="10.2" fill="#a868c0"/>
<rect x="2108.6" y="1207.9" width="37.3" height="9.3" fill="#10a498"/>
<rect x="2080.6" y="1217.2" width="37.3" height="4.7" fill="#00a348"/>
<rect x="2117.9" y="1217.2" width="26.1" height="4.7" fill="#08a4a0"/>
<rect x="2080.6" y="1222.8" width="28.0" height="5.6" fill="#d04090"/>
<rect x="2080.6" y="1228.4" width="52.3" height="7.8" fill="#d050a0"/>
<rect x="2080.6" y="1238.6" width="29.9" height="15.8" fill="#ff0a55"/>
<rect x="2110.5" y="1239.5" width="9.3" height="5.6" fill="#c06050"/>
<rect x="2110.5" y="1245.1" width="55.9" height="8.4" fill="#b06090"/>
<rect x="2166.4" y="1247.0" width="22.4" height="6.5" fill="#10a498"/>
<rect x="2080.6" y="1254.5" width="16.8" height="11.2" fill="#a08060"/>
<rect x="2097.4" y="1260.0" width="7.5" height="5.6" fill="#00a348"/>
<rect x="2080.6" y="1266.6" width="52.3" height="11.2" fill="#00a348"/>
<rect x="2132.9" y="1272.2" width="39.1" height="5.6" fill="#10a488"/>
<rect x="2080.6" y="1277.7" width="17.8" height="10.2" fill="#b07050"/>
<rect x="2080.6" y="1289.9" width="46.7" height="7.8" fill="#c06060"/>
<rect x="2127.3" y="1289.9" width="5.6" height="7.8" fill="#90703c"/>
<rect x="2132.9" y="1291.7" width="100.6" height="6.0" fill="#08a490"/>
<rect x="2080.6" y="1300.1" width="35.5" height="3.7" fill="#a868c0"/>
<rect x="2080.6" y="1304.8" width="40.1" height="5.6" fill="#ff0a55"/>
<rect x="2120.7" y="1304.8" width="5.6" height="5.6" fill="#90703c"/>
<rect x="2126.3" y="1305.7" width="28.9" height="5.6" fill="#10a4a0"/>
<rect x="2080.6" y="1312.2" width="28.0" height="13.0" fill="#00a348"/>
<rect x="2080.6" y="1328.1" width="29.9" height="4.7" fill="#e04060"/>
<rect x="2110.5" y="1328.1" width="5.6" height="4.7" fill="#90703c"/>
<rect x="2116.1" y="1329.0" width="9.3" height="3.7" fill="#00a348"/>
<rect x="2080.6" y="1339.2" width="28.0" height="4.7" fill="#ff0a55"/>
<rect x="2108.6" y="1339.2" width="24.2" height="4.7" fill="#a868c0"/>
<rect x="2080.6" y="1343.9" width="35.5" height="5.6" fill="#ff0a55"/>
<rect x="2116.1" y="1343.9" width="20.5" height="5.6" fill="#a060c0"/>
<rect x="2080.6" y="1349.5" width="35.5" height="5.6" fill="#ff0a55"/>
<rect x="2116.1" y="1349.5" width="82.0" height="5.6" fill="#d04090"/>
<rect x="2198.1" y="1351.4" width="11.2" height="3.7" fill="#308070"/>
<rect x="2080.6" y="1355.1" width="18.7" height="7.5" fill="#ff0a55"/>
<rect x="2099.3" y="1357.3" width="46.6" height="5.2" fill="#104838"/>
<rect x="2080.6" y="1362.5" width="108.2" height="14.8" fill="#ff0a55"/>
<rect x="2188.8" y="1365.2" width="37.3" height="5.6" fill="#a08050"/>
<rect x="2164.5" y="1370.8" width="67.1" height="6.5" fill="#c050a0"/>
<rect x="2080.6" y="1377.4" width="83.9" height="5.6" fill="#808050"/>
<rect x="2164.5" y="1378.3" width="46.6" height="4.7" fill="#10a480"/>
<rect x="2080.6" y="1383.0" width="33.6" height="11.2" fill="#00a348"/>
<rect x="2114.2" y="1388.5" width="31.7" height="5.6" fill="#10a4a0"/>
<rect x="2080.6" y="1394.1" width="102.6" height="6.5" fill="#f03050"/>
<rect x="2183.2" y="1395.1" width="50.3" height="6.5" fill="#00a348"/>
<rect x="2080.6" y="1400.7" width="28.0" height="10.2" fill="#ff0a55"/>
<rect x="2108.6" y="1401.6" width="67.1" height="9.3" fill="#20a060"/>
<rect x="2099.3" y="1400.7" width="18.6" height="5.6" fill="#a08060"/>
<rect x="2080.6" y="1410.9" width="83.9" height="7.5" fill="#ff0a55"/>
<rect x="2164.5" y="1412.8" width="18.6" height="5.6" fill="#10a060"/>
<rect x="2080.6" y="1417.4" width="102.6" height="8.4" fill="#ff0a55"/>
<rect x="2183.2" y="1418.4" width="50.3" height="7.5" fill="#10a070"/>
<rect x="2080.6" y="1425.8" width="72.8" height="7.5" fill="#ff0a55"/>
<rect x="2119.8" y="1428.6" width="33.5" height="4.7" fill="#b06050"/>
<rect x="2153.4" y="1428.6" width="22.4" height="4.7" fill="#00a348"/>
<rect x="2080.6" y="1433.3" width="18.7" height="5.6" fill="#ff0a55"/>
<rect x="2099.3" y="1434.2" width="46.6" height="4.7" fill="#10a070"/>
<rect x="2080.6" y="1438.9" width="18.7" height="5.6" fill="#ff0a55"/>
<rect x="2099.3" y="1439.8" width="61.5" height="4.7" fill="#d04090"/>
<rect x="2160.8" y="1440.7" width="26.1" height="5.6" fill="#00a348"/>
<rect x="2080.6" y="1444.5" width="62.5" height="7.5" fill="#ff0a55"/>
<rect x="2143.1" y="1445.4" width="21.4" height="4.7" fill="#708040"/>
<rect x="2164.5" y="1446.3" width="37.3" height="5.6" fill="#10a070"/>
<rect x="2080.6" y="1451.9" width="108.2" height="9.3" fill="#ff0a55"/>
<rect x="2188.8" y="1452.8" width="14.9" height="8.4" fill="#d06080"/>
<rect x="2203.7" y="1451.9" width="29.8" height="7.5" fill="#10a490"/>
<rect x="2080.6" y="1461.2" width="46.7" height="5.6" fill="#ff0a55"/>
<rect x="2127.3" y="1462.2" width="18.6" height="4.7" fill="#109070"/>
<rect x="2080.6" y="1466.8" width="108.2" height="7.5" fill="#ff0a55"/>
<rect x="2188.8" y="1467.7" width="54.0" height="6.5" fill="#c07050"/>
<rect x="2080.6" y="1474.3" width="33.6" height="4.7" fill="#ff0a55"/>
<rect x="2114.2" y="1474.3" width="28.9" height="4.7" fill="#309060"/>
<rect x="2080.6" y="1478.9" width="62.5" height="8.4" fill="#ff0a55"/>
<rect x="2143.1" y="1479.9" width="12.1" height="7.5" fill="#10a090"/>
<rect x="2080.6" y="1487.3" width="180.6" height="55.5" fill="#ff0a55"/>
<rect x="2244.7" y="1490.1" width="16.5" height="8.4" fill="#b06080"/>
<rect x="2235.4" y="1500.4" width="25.8" height="5.6" fill="#10a4a0"/>
<rect x="2205.5" y="1506.0" width="55.7" height="9.3" fill="#08a4c0"/>
<rect x="2218.6" y="1515.3" width="42.6" height="7.5" fill="#10a4b0"/>
<rect x="2239.1" y="1522.7" width="22.1" height="11.2" fill="#10a090"/>
<rect x="2226.0" y="1533.9" width="35.2" height="8.9" fill="#08a4c0"/>
<rect x="2145.9" y="1538.6" width="115.3" height="4.3" fill="#208080"/>
<rect x="2080.6" y="1542.8" width="180.6" height="61.5" fill="#ff0a55"/>
<rect x="2211.1" y="1542.8" width="22.4" height="10.8" fill="#808050"/>
<rect x="2244.7" y="1542.8" width="16.5" height="22.0" fill="#10a070"/>
<rect x="2233.5" y="1546.2" width="11.2" height="7.5" fill="#608060"/>
<rect x="2080.6" y="1567.6" width="152.9" height="4.7" fill="#a07050"/>
<rect x="2233.5" y="1566.7" width="27.7" height="7.5" fill="#08a4d0"/>
<rect x="2233.5" y="1574.1" width="27.7" height="9.3" fill="#c060a0"/>
<rect x="2099.3" y="1583.8" width="134.2" height="5.2" fill="#908060"/>
<rect x="2233.5" y="1583.5" width="27.7" height="7.5" fill="#6080c0"/>
<rect x="2183.2" y="1590.9" width="50.3" height="13.4" fill="#c07060"/>
<rect x="2233.5" y="1590.9" width="27.7" height="13.4" fill="#a07090"/>
<rect x="2080.6" y="1604.3" width="180.6" height="63.9" fill="#ff0a55"/>
<rect x="2244.7" y="1607.7" width="16.5" height="9.3" fill="#a08050"/>
<rect x="2244.7" y="1617.0" width="16.5" height="11.2" fill="#10a070"/>
<rect x="2226.0" y="1628.2" width="35.2" height="7.5" fill="#10a480"/>
<rect x="2246.5" y="1639.4" width="14.7" height="11.2" fill="#e04050"/>
<rect x="2188.8" y="1652.4" width="44.7" height="7.5" fill="#a07060"/>
<rect x="2233.5" y="1654.3" width="27.7" height="7.5" fill="#10a070"/>
<rect x="2239.1" y="1661.7" width="22.1" height="6.5" fill="#c06050"/>
<rect x="2080.6" y="1668.2" width="180.6" height="61.5" fill="#ff0a55"/>
<rect x="2246.5" y="1672.9" width="14.7" height="9.3" fill="#c060a0"/>
<rect x="2237.2" y="1684.1" width="24.0" height="11.2" fill="#10a4a0"/>
<rect x="2239.1" y="1695.3" width="22.1" height="11.2" fill="#708050"/>
<rect x="2220.4" y="1706.4" width="40.8" height="7.5" fill="#10a480"/>
<rect x="2239.1" y="1706.4" width="22.1" height="5.6" fill="#00a8f0"/>
<rect x="2201.8" y="1712.0" width="31.7" height="6.5" fill="#a07060"/>
<rect x="2233.5" y="1712.0" width="27.7" height="6.5" fill="#10a060"/>
<rect x="2239.1" y="1719.5" width="22.1" height="10.2" fill="#c06060"/>
<rect x="2080.6" y="1729.7" width="180.6" height="64.4" fill="#ff0a55"/>
<rect x="2239.1" y="1729.7" width="22.1" height="8.9" fill="#208060"/>
<rect x="2239.1" y="1738.6" width="22.1" height="7.5" fill="#c060a0"/>
<rect x="2172.0" y="1746.1" width="89.2" height="9.3" fill="#00a8f0"/>
<rect x="2142.2" y="1747.0" width="29.8" height="5.6" fill="#9070c0"/>
<rect x="2099.3" y="1763.8" width="161.9" height="3.7" fill="#6080c0"/>
<rect x="2144.0" y="1767.5" width="117.2" height="5.6" fill="#00a8f0"/>
<rect x="2099.3" y="1767.5" width="44.7" height="5.6" fill="#b06080"/>
<rect x="2080.6" y="1785.2" width="18.7" height="5.6" fill="#a07080"/>
<rect x="2099.3" y="1785.2" width="161.9" height="8.9" fill="#1090d8"/>
<rect x="2080.6" y="1794.2" width="180.6" height="60.4" fill="#ff0a55"/>
<rect x="2144.0" y="1797.3" width="44.7" height="4.7" fill="#e07070"/>
<rect x="2188.8" y="1800.1" width="37.3" height="6.5" fill="#808060"/>
<rect x="2226.0" y="1797.3" width="35.2" height="10.2" fill="#10a060"/>
<rect x="2233.5" y="1807.6" width="27.7" height="9.3" fill="#10a050"/>
<rect x="2246.5" y="1816.9" width="14.7" height="18.6" fill="#c06060"/>
<rect x="2233.5" y="1837.4" width="27.7" height="11.2" fill="#10a4a0"/>
<rect x="2226.0" y="1839.3" width="13.0" height="7.5" fill="#20a040"/>
<rect x="2080.6" y="1854.6" width="180.6" height="74.2" fill="#ff0a55"/>
<rect x="2244.7" y="1857.9" width="16.5" height="7.5" fill="#608060"/>
<rect x="2244.7" y="1878.4" width="16.5" height="16.8" fill="#10a4b0"/>
<rect x="2134.7" y="1890.5" width="104.4" height="5.6" fill="#4080d0"/>
<rect x="2248.4" y="1906.4" width="12.8" height="22.4" fill="#308060"/>
</g></g>
<g filter="url(#bl2)">
<rect x="1897.80" y="26.50" width="170.40" height="1894.65" fill="none" stroke="#000" stroke-width="4.80"/>
<rect x="1899.2" y="92.7" width="167.6" height="2.5" fill="#101008"/>
<rect x="1899.2" y="153.9" width="167.6" height="2.5" fill="#101008"/>
<rect x="1899.2" y="218.5" width="167.6" height="2.5" fill="#101008"/>
<rect x="1899.2" y="279.6" width="167.6" height="2.5" fill="#101008"/>
<rect x="1899.2" y="346.3" width="167.6" height="2.5" fill="#101008"/>
<rect x="1899.2" y="407.8" width="167.6" height="2.5" fill="#101008"/>
<rect x="1899.2" y="474.8" width="167.6" height="2.5" fill="#101008"/>
<rect x="1899.2" y="538.1" width="167.6" height="2.5" fill="#101008"/>
<rect x="1899.2" y="599.6" width="167.6" height="2.5" fill="#7c0020"/>
<rect x="1899.2" y="666.6" width="167.6" height="2.5" fill="#101008"/>
<rect x="1899.2" y="733.7" width="167.6" height="2.5" fill="#101008"/>
<rect x="1899.2" y="797.8" width="167.6" height="2.5" fill="#101008"/>
<rect x="1899.2" y="861.4" width="167.6" height="2.5" fill="#101008"/>
<rect x="1899.2" y="926.3" width="167.6" height="2.5" fill="#101008"/>
<rect x="1899.2" y="987.8" width="167.6" height="2.5" fill="#101008"/>
<rect x="1899.2" y="1048.6" width="167.6" height="2.5" fill="#101008"/>
<rect x="1899.2" y="1112.6" width="167.6" height="2.5" fill="#101008"/>
<rect x="1899.2" y="1171.6" width="167.6" height="2.5" fill="#101008"/>
<rect x="1899.2" y="1234.9" width="167.6" height="2.5" fill="#101008"/>
<rect x="1899.2" y="1296.4" width="167.6" height="2.5" fill="#101008"/>
<rect x="1899.2" y="1361.3" width="167.6" height="2.5" fill="#101008"/>
<rect x="1899.2" y="1424.6" width="167.6" height="2.5" fill="#101008"/>
<rect x="1899.2" y="1486.1" width="167.6" height="2.5" fill="#101008"/>
<rect x="1899.2" y="1541.6" width="167.6" height="2.5" fill="#101008"/>
<rect x="1899.2" y="1603.1" width="167.6" height="2.5" fill="#101008"/>
<rect x="1899.2" y="1667.0" width="167.6" height="2.5" fill="#101008"/>
<rect x="1899.2" y="1728.5" width="167.6" height="2.5" fill="#101008"/>
<rect x="1899.2" y="1792.9" width="167.6" height="2.5" fill="#101008"/>
<rect x="1899.2" y="1853.3" width="167.6" height="2.5" fill="#101008"/>
<rect x="2087.15" y="26.50" width="167.50" height="1894.65" fill="none" stroke="#000" stroke-width="4.90"/>
<rect x="2088.6" y="92.7" width="164.6" height="2.5" fill="#101008"/>
<rect x="2088.6" y="153.9" width="164.6" height="2.5" fill="#101008"/>
<rect x="2088.6" y="218.5" width="164.6" height="2.5" fill="#101008"/>
<rect x="2088.6" y="279.6" width="164.6" height="2.5" fill="#101008"/>
<rect x="2088.6" y="346.3" width="164.6" height="2.5" fill="#101008"/>
<rect x="2088.6" y="407.8" width="164.6" height="2.5" fill="#101008"/>
<rect x="2088.6" y="474.8" width="164.6" height="2.5" fill="#101008"/>
<rect x="2088.6" y="538.1" width="164.6" height="2.5" fill="#101008"/>
<rect x="2088.6" y="599.6" width="164.6" height="2.5" fill="#101008"/>
<rect x="2088.6" y="599.6" width="27" height="2.5" fill="#a00028"/>
<rect x="2088.6" y="666.6" width="164.6" height="2.5" fill="#101008"/>
<rect x="2088.6" y="733.7" width="164.6" height="2.5" fill="#101008"/>
<rect x="2088.6" y="797.8" width="164.6" height="2.5" fill="#101008"/>
<rect x="2088.6" y="861.4" width="164.6" height="2.5" fill="#101008"/>
<rect x="2088.6" y="926.3" width="164.6" height="2.5" fill="#101008"/>
<rect x="2088.6" y="987.8" width="164.6" height="2.5" fill="#101008"/>
<rect x="2088.6" y="1048.6" width="164.6" height="2.5" fill="#101008"/>
<rect x="2088.6" y="1112.6" width="164.6" height="2.5" fill="#101008"/>
<rect x="2088.6" y="1171.6" width="164.6" height="2.5" fill="#101008"/>
<rect x="2088.6" y="1234.9" width="164.6" height="2.5" fill="#101008"/>
<rect x="2088.6" y="1296.4" width="164.6" height="2.5" fill="#101008"/>
<rect x="2088.6" y="1361.3" width="164.6" height="2.5" fill="#101008"/>
<rect x="2088.6" y="1424.6" width="164.6" height="2.5" fill="#101008"/>
<rect x="2088.6" y="1486.1" width="164.6" height="2.5" fill="#101008"/>
<rect x="2088.6" y="1541.6" width="164.6" height="2.5" fill="#101008"/>
<rect x="2088.6" y="1603.1" width="164.6" height="2.5" fill="#101008"/>
<rect x="2088.6" y="1667.0" width="164.6" height="2.5" fill="#101008"/>
<rect x="2088.6" y="1728.5" width="164.6" height="2.5" fill="#101008"/>
<rect x="2088.6" y="1792.9" width="164.6" height="2.5" fill="#101008"/>
<rect x="2088.6" y="1853.3" width="164.6" height="2.5" fill="#101008"/>
</g>
<g font-family="'Liberation Sans', sans-serif" font-size="62" fill="#0c0c0c" stroke="#fff" stroke-width="2.0" stroke-linejoin="round">
<text transform="translate(1951 2020.2) scale(0.93 1)">K=2</text>
<text transform="translate(2114.7 2020.2) scale(0.93 1)">K=3</text>
</g>
</svg>
</body>
</html>
